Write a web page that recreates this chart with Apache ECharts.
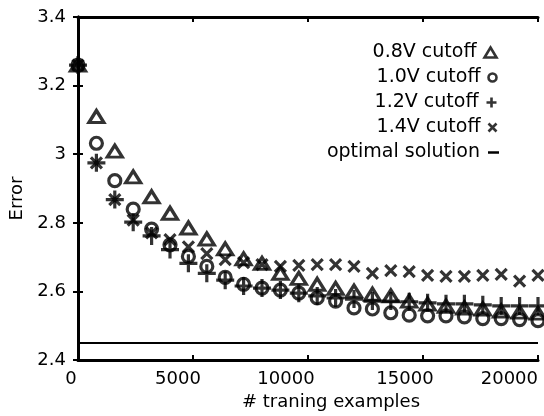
<!DOCTYPE html>
<html>
<head>
<meta charset="utf-8">
<script src="https://cdn.jsdelivr.net/npm/echarts@6/dist/echarts.min.js"></script>
<style>html,body{margin:0;padding:0;background:#fff;}#c{width:544px;height:416px;}</style>
</head>
<body>
<div id="c"></div>
<script>
var examples = [0, 800, 1600, 2400, 3200, 4000, 4800, 5600, 6400, 7200, 8000, 8800, 9600,
  10400, 11200, 12000, 12800, 13600, 14400, 15200, 16000, 16800, 17600, 18400, 19200, 20000];
var cutoff08 = [3.26, 3.110, 3.009, 2.934, 2.876, 2.828, 2.785, 2.753, 2.724, 2.695, 2.682, 2.653, 2.638,
  2.621, 2.609, 2.601, 2.592, 2.587, 2.572, 2.563, 2.557, 2.552, 2.549, 2.543, 2.540, 2.537];
var cutoff10 = [3.26, 3.032, 2.923, 2.840, 2.782, 2.736, 2.702, 2.673, 2.641, 2.621, 2.610, 2.604, 2.595,
  2.581, 2.572, 2.552, 2.549, 2.538, 2.531, 2.529, 2.529, 2.526, 2.521, 2.521, 2.518, 2.515];
var cutoff12 = [3.26, 2.975, 2.868, 2.802, 2.762, 2.722, 2.682, 2.653, 2.633, 2.616, 2.610, 2.604, 2.595,
  2.587, 2.581, 2.578, 2.572, 2.572, 2.570, 2.567, 2.564, 2.564, 2.561, 2.558, 2.558, 2.558];
var cutoff14 = [3.26, 2.975, 2.868, 2.808, 2.771, 2.751, 2.730, 2.710, 2.693, 2.684, 2.678, 2.673, 2.676,
  2.678, 2.678, 2.673, 2.653, 2.661, 2.658, 2.647, 2.644, 2.644, 2.647, 2.650, 2.630, 2.647];
var optimalValue = 2.45;
var seriesNames = ['0.8V cutoff', '1.0V cutoff', '1.2V cutoff', '1.4V cutoff', 'optimal solution'];
var xTicks = [0, 5000, 10000, 15000, 20000];
var yTicks = [2.4, 2.6, 2.8, 3.0, 3.2, 3.4];

var FONT = 'DejaVu Sans';
function pairs(ys) { return examples.map(function (x, i) { return [x, ys[i]]; }); }

var PLUS = 'path://M0,5L10,5M5,0L5,10';
var CROSS = 'path://M0,0L10,10M10,0L0,10';
var stroke = { color: 'none', borderColor: '#000', borderWidth: 3.2 };
var legendStroke = { color: 'none', borderColor: '#000', borderWidth: 2.6 };

var chart = echarts.init(document.getElementById('c'), null, { renderer: 'canvas' });

var labelShift = { 0: 'a', 5000: 'b', 10000: 'c', 15000: 'd' };

function mkLegend(i, top, icon, iw, ih, style) {
  return {
    orient: 'vertical', right: 45, top: top, padding: 0, align: 'right',
    itemWidth: iw, itemHeight: ih, selectedMode: false,
    textStyle: { fontFamily: FONT, fontSize: 19, color: '#000', padding: [0, 3, 0, 0] },
    data: [{ name: seriesNames[i], icon: icon, itemStyle: style }]
  };
}

var axisCommon = {
  axisLine: { show: true, lineStyle: { color: '#000', width: 3 } },
  splitLine: { show: false },
  axisTick: { show: true, inside: true, length: 5, lineStyle: { color: '#000', width: 2 } }
};

chart.setOption({
  animation: false,
  grid: { left: 76, right: 6, top: 17, bottom: 51 },
  legend: [
    mkLegend(0, 43, 'triangle', 12, 10, legendStroke),
    mkLegend(1, 68, 'circle', 8, 8, legendStroke),
    mkLegend(2, 93, PLUS, 10, 10, legendStroke),
    mkLegend(3, 118, CROSS, 8, 8, legendStroke),
    mkLegend(4, 143, 'rect', 11, 2.5, { color: '#000', borderWidth: 0 })
  ],
  xAxis: [
    Object.assign({
      type: 'value', min: xTicks[0], max: xTicks[xTicks.length - 1], interval: 5000,
      name: '# traning examples', nameLocation: 'middle', nameGap: 30,
      nameTextStyle: { fontFamily: FONT, fontSize: 18, color: '#000', padding: [0, 0, 0, 46] },
      axisLabel: {
        margin: 10, color: '#000', fontFamily: FONT, fontSize: 18, alignMaxLabel: 'right',
        formatter: function (v) { return labelShift[v] ? '{' + labelShift[v] + '|' + v + '}' : String(v); },
        rich: {
          a: { fontFamily: FONT, fontSize: 18, color: '#000', padding: [0, 14, 0, 0] },
          b: { fontFamily: FONT, fontSize: 18, color: '#000', padding: [0, 30, 0, 0] },
          c: { fontFamily: FONT, fontSize: 18, color: '#000', padding: [0, 44, 0, 0] },
          d: { fontFamily: FONT, fontSize: 18, color: '#000', padding: [0, 36, 0, 0] }
        }
      }
    }, axisCommon),
    Object.assign({
      type: 'value', position: 'top', min: xTicks[0], max: xTicks[xTicks.length - 1], interval: 5000,
      axisLabel: { show: false }
    }, axisCommon)
  ],
  yAxis: [
    Object.assign({
      type: 'value', min: yTicks[0], max: yTicks[yTicks.length - 1], interval: 0.2,
      name: 'Error', nameLocation: 'middle', nameGap: 52,
      nameTextStyle: { fontFamily: FONT, fontSize: 18, color: '#000', padding: [0, 20, 0, 0] },
      axisLabel: { margin: 12, color: '#000', fontFamily: FONT, fontSize: 18, padding: [5, 0, 0, 0],
        formatter: function (v) { return String(Math.round(v * 10) / 10); } }
    }, axisCommon),
    Object.assign({
      type: 'value', position: 'right', min: yTicks[0], max: yTicks[yTicks.length - 1], interval: 0.2,
      axisLabel: { show: false }
    }, axisCommon)
  ],
  series: [
    { name: seriesNames[0], type: 'scatter', data: pairs(cutoff08), symbol: 'triangle', symbolSize: [15, 12],
      itemStyle: stroke, clip: false, z: 3 },
    { name: seriesNames[1], type: 'scatter', data: pairs(cutoff10), symbol: 'circle', symbolSize: 12,
      itemStyle: stroke, clip: false, z: 3 },
    { name: seriesNames[2], type: 'scatter', data: pairs(cutoff12), symbol: PLUS, symbolSize: 18,
      itemStyle: stroke, clip: false, z: 3 },
    { name: seriesNames[3], type: 'scatter', data: pairs(cutoff14), symbol: CROSS, symbolSize: 11,
      itemStyle: stroke, clip: false, z: 3 },
    { name: seriesNames[4], type: 'line', data: [[xTicks[0], optimalValue], [xTicks[xTicks.length - 1], optimalValue]],
      symbol: 'none', lineStyle: { color: '#000', width: 2 }, itemStyle: { color: '#000' }, z: 2 }
  ]
});
</script>
</body>
</html>
